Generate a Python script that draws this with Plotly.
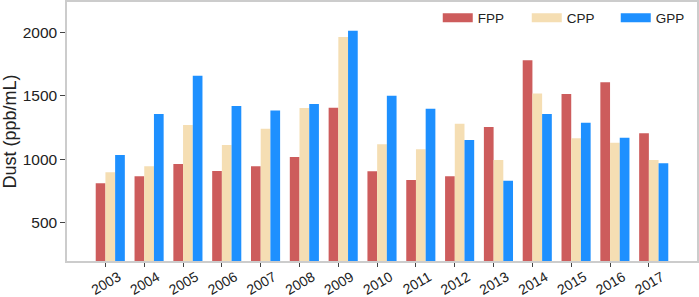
import plotly.graph_objects as go

years = ["2003", "2004", "2005", "2006", "2007", "2008", "2009", "2010",
         "2011", "2012", "2013", "2014", "2015", "2016", "2017"]
fpp = [812, 867, 964, 909, 946, 1019, 1407, 906, 838, 867, 1255, 1782, 1515, 1607, 1206]
cpp = [899, 946, 1271, 1114, 1242, 1405, 1965, 1119, 1080, 1281, 995, 1520, 1166, 1132, 995]
gpp = [1035, 1357, 1659, 1420, 1386, 1436, 2013, 1501, 1399, 1153, 833, 1357, 1289, 1171, 969]

series = [("FPP", fpp, "#CD5C5C", -0.25),
          ("CPP", cpp, "#F5DEB3", 0.0),
          ("GPP", gpp, "#1E90FF", 0.25)]

idx = list(range(len(years)))
fig = go.Figure()
for name, vals, color, off in series:
    fig.add_trace(go.Bar(x=idx, y=vals, name=name, marker_color=color,
                         marker_line_width=0, width=0.25, offset=off,
                         showlegend=False, legendgroup=name))
for name, vals, color, off in series:
    fig.add_trace(go.Scatter(x=[None], y=[None], mode="lines", name=name,
                             line=dict(color=color, width=9), legendgroup=name))

font = "Liberation Sans, Arial, sans-serif"
fig.update_layout(
    width=699, height=297,
    margin=dict(l=67, r=2, t=2, b=36, autoexpand=False),
    paper_bgcolor="white", plot_bgcolor="white",
    barmode="overlay",
    font=dict(family=font, size=14, color="#222"),
    legend=dict(orientation="h", x=0.5885, y=0.938, xanchor="left", yanchor="middle",
                entrywidth=44, entrywidthmode="pixels", itemwidth=30,
                font=dict(size=13.5, color="#222"), bgcolor="rgba(0,0,0,0)"),
    xaxis=dict(range=[-0.99, 15.24], tickmode="array", tickvals=idx, ticktext=years,
               tickangle=-30, ticks="outside", ticklen=4, tickcolor="#444",
               ticklabelshift=13, ticklabelstandoff=-3,
               showline=True, linecolor="#cccccc", linewidth=1.5, mirror=True,
               showgrid=False, zeroline=False, tickfont=dict(size=14),
               automargin=False),
    yaxis=dict(range=[200, 2240], tickvals=[500, 1000, 1500, 2000],
               ticks="outside", ticklen=5, tickcolor="#444",
               showline=True, linecolor="#cccccc", linewidth=1.5, mirror=True,
               showgrid=False, zeroline=False, tickfont=dict(size=15.5),
               automargin=False,
               title=dict(text="Dust (ppb/mL)", font=dict(size=18), standoff=6)),
)
fig.write_html("out.html", config={"displayModeBar": False},
               post_script="document.body.style.margin='0';document.body.style.overflow='hidden';")
